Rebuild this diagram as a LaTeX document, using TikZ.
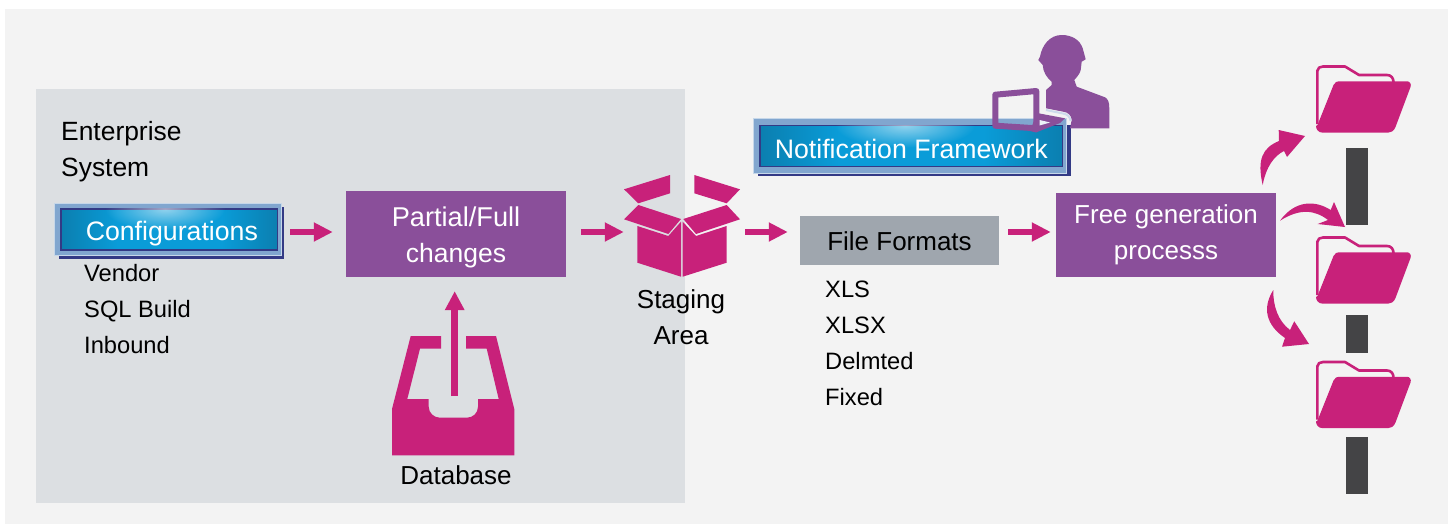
\documentclass[tikz,border=0pt]{standalone}
\usepackage{fontspec}
\setmainfont{Liberation Sans}
\usetikzlibrary{arrows.meta,fadings}
\definecolor{pagebg}{HTML}{F3F3F3}
\definecolor{entbg}{HTML}{DCDFE2}
\definecolor{magentaink}{HTML}{C8217A}
\definecolor{purpleink}{HTML}{8A4F9A}
\definecolor{greybox}{HTML}{9FA6AE}
\definecolor{darkbar}{HTML}{444446}
\definecolor{navy}{HTML}{333A85}
\definecolor{paleblue}{HTML}{81A6CF}
\definecolor{btnA}{HTML}{2A4C7E}
\definecolor{btnB}{HTML}{0B6F9A}
\definecolor{btnC}{HTML}{0A9CD8}
\pgfdeclarehorizontalshading{btnshade}{100bp}{
  color(0bp)=(btnB!70!btnA); color(12bp)=(btnB); color(18bp)=(btnB); color(38bp)=(btnC); color(62bp)=(btnC);
  color(82bp)=(btnB); color(100bp)=(btnA)}
\tikzfading[name=glow, inner color=transparent!45, outer color=transparent!100]
\newcommand\tworows[4]{\rule{0pt}{#3pt}#1\\#2\rule[-#4pt]{0pt}{#4pt}}
\tikzset{
  big/.style={font=\fontsize{26}{36}\selectfont},
  bigger/.style={font=\fontsize{26.7}{36}\selectfont},
  small/.style={font=\fontsize{23.7}{36}\selectfont, anchor=base west, inner sep=0pt, text=black},
  procbox/.style={fill=purpleink, text=white, big, align=center, inner sep=0pt, minimum width=220pt},
  formatbox/.style={fill=greybox, text=black, big, inner sep=0pt, minimum width=199pt, minimum height=49pt, text height=19pt, text depth=0pt},
  btnouter/.style={fill=paleblue, draw=paleblue!45!white, line width=0.8pt, inner sep=0pt},
  btn/.style={shading=btnshade, draw=navy, line width=1.4pt, text=white, bigger, inner sep=0pt, minimum height=41pt},
  iconarea/.style={inner sep=0pt},
  flow/.style={draw=magentaink, line width=6.5pt, -{Triangle[length=19pt,width=18pt]}},
  ink/.style={fill=magentaink, draw=none},
  bar/.style={fill=darkbar, draw=none},
  labelc/.style={big, align=center, inner sep=0pt, text=black},
  folderico/.pic={
    \draw[magentaink, line width=2.6pt, line join=round]
      (1317.3,124) -- (1317.3,71) .. controls (1317.3,68) and (1320,66.5) .. (1323,66.5) -- (1345,66.5) -- (1359,75) -- (1387,75) .. controls (1391,75) and (1393.5,78) .. (1393.5,82);
    \fill[magentaink] (1339,81.3) -- (1407,81.3) .. controls (1410,81.3) and (1411.5,84) .. (1410.5,87) -- (1395.5,127)
      .. controls (1394,131) and (1391,132.7) .. (1388,132.7) -- (1323,132.7) .. controls (1318,132.7) and (1316,129) .. (1316,126) -- (1317.5,125) -- (1333.5,85) .. controls (1335,82) and (1337,81.3) .. (1339,81.3) -- cycle;
  }
}
\begin{document}
\begin{tikzpicture}[x=1pt,y=-1pt]
\useasboundingbox (0,0) rectangle (1452,525);
\fill[white] (0,0) rectangle (1452,525);
\fill[pagebg] (5,9) rectangle (1448,524);
\fill[entbg] (36,89) rectangle (685,503);

\coordinate (rowy) at (0,232);

% left column
\node[font=\fontsize{26.4}{36}\selectfont, anchor=base west, inner sep=0pt] (ent1) at (61,140) {Enterprise};
\node[font=\fontsize{26.4}{36}\selectfont, anchor=base west, inner sep=0pt] (ent2) at (61,176) {System};
\fill[navy] (59,207) rectangle (284.3,258.7);
\node[btnouter, minimum width=226.6pt, minimum height=52.5pt] (cfgouter) at (168,229.35) {};
\node[btn, minimum width=216.7pt, text height=26pt, text depth=5pt] (cfg) at (169.35,229.5) {\hspace{5pt}Configurations};
\begin{scope}
  \clip (cfg.south west) rectangle (cfg.north east);
  \fill[white, path fading=glow] (165,209) ellipse (60pt and 22pt);
\end{scope}
\node[small] (vendor) at (84,281) {Vendor};
\node[small] (sql) at (84,317) {SQL Build};
\node[small] (inb) at (84,353) {Inbound};

\node[procbox, minimum height=86pt] (part) at (456,234)
  {\tworows{\fontsize{27.2}{36}\selectfont Partial/Full}{\fontsize{26.5}{36}\selectfont changes}{26}{6}};

% tray
\node[iconarea, minimum width=122.3pt, minimum height=119.3pt] (tray) at (453.15,395.65) {};
\fill[magentaink] (410.7,336) -- (441,336) -- (441,348.7) -- (420,348.7) -- (407.3,399) -- (428.7,399) -- (428.7,406.7)
  .. controls (428.7,413) and (434,417.7) .. (440,417.7) -- (466.7,417.7) .. controls (473,417.7) and (478,413) .. (478,406.7) -- (478,399)
  -- (498.7,399) -- (486.7,348.7) -- (466,348.7) -- (466,336) -- (496,336) -- (514.3,409) -- (514.3,455.3) -- (392,455.3) -- (392,409) -- cycle;
\coordinate (trayout) at (454.7,396);
\draw[magentaink, line width=6.7pt, -{Triangle[length=19pt,width=18.5pt]}, shorten >=14pt] (trayout) -- (trayout |- part.south);
\node[labelc] (dbl) at (456,475) {Database};

% staging box
\node[iconarea, minimum width=116pt, minimum height=102pt] (staging) at (682,226) {};
\fill[magentaink] (624,189.3) -- (670,175) -- (670,193.3) -- (638.3,203.3) -- cycle;
\fill[magentaink] (694.3,175) -- (740,189.3) -- (726.7,203.3) -- (694.3,193.3) -- cycle;
\fill[magentaink] (638.3,205) -- (681,219) -- (668.3,234) -- (624,219.3) -- cycle;
\fill[magentaink] (726.7,205) -- (740,219.3) -- (696,234) -- (683.3,219) -- cycle;
\fill[magentaink] (637.3,226) -- (668.3,236) -- (681,221.7) -- (681,276.7) -- (637.3,262.7) -- cycle;
\fill[magentaink] (682.7,221.7) -- (696,236) -- (726.7,226) -- (726.7,262.7) -- (682.7,276.7) -- cycle;
\node[labelc] (stl) at (681,317) {\tworows{Staging}{Area}{24}{6}};

% file formats
\node[formatbox] (ff) at (899.5,240.5) {File Formats};
\node[small] (xls) at (825,297) {XLS};
\node[small] (xlsx) at (825,333) {XLSX};
\node[small] (del) at (825,369) {Delmted};
\node[small] (fix) at (825,405) {Fixed};

% free generation
\node[procbox, minimum height=84pt] (free) at (1166,235) {\tworows{Free generation}{processs}{20}{8}};

% notification
\fill[navy] (758,125) rectangle (1070.7,175.7);
\node[btnouter, minimum width=312.6pt, minimum height=54.9pt] (notifouter) at (910,146.15) {};
\node[btn, minimum width=302.7pt, text height=30pt, text depth=5pt] (notif) at (911.35,146.2) {Notification Framework};
\begin{scope}
  \clip (notif.south west) rectangle (notif.north east);
  \fill[white, path fading=glow] (905,125.7) ellipse (70pt and 22pt);
\end{scope}

% person + laptop
\fill[purpleink] (1061.7,35) .. controls (1050,35) and (1042,45) .. (1040,56.7) -- (1038.3,60) -- (1042.7,65)
  .. controls (1043,72) and (1047,78) .. (1051.7,81.7) -- (1051.7,85) -- (1046,90) -- (1046,108.3) -- (1063.3,111.7)
  .. controls (1068,112) and (1071.7,116) .. (1071.7,120) -- (1070,128.3) -- (1109.3,128.3) -- (1109.3,108.3)
  .. controls (1109.3,102) and (1108,99) .. (1105,97.3) -- (1076.7,86.7) -- (1074.3,80)
  .. controls (1078,76) and (1080,73) .. (1080.7,70) -- (1081.7,61.7) -- (1085.7,59.3) -- (1082.7,48.3)
  .. controls (1080,40) and (1072,35) .. (1061.7,35) -- cycle;
\draw[white!60!paleblue, line width=2pt] (1046,110) -- (1063,113.5) .. controls (1067,114) and (1070.5,117) .. (1070.5,121);
\draw[purpleink, line width=6pt, line join=round] (995.3,94.7) -- (1036.3,91) -- (1036.3,128.3) -- (995.3,125.7) -- cycle;
\fill[purpleink] (1037,113) -- (1065,118.3) -- (1060,123) -- (1036,132.5) -- (1030,131) -- cycle;
\fill[white!85!paleblue] (1039.5,120) -- (1050,122.5) -- (1039.5,125.5) -- cycle;

% row of connectors
\draw[flow, shorten <=8.3pt, shorten >=13pt] (cfgouter.east |- rowy) -- (part.west |- rowy);
\draw[flow, shorten <=15pt] (part.east |- rowy) -- (staging.west |- rowy);
\draw[flow, shorten <=5pt, shorten >=12pt] (staging.east |- rowy) -- (ff.west |- rowy);
\draw[flow, shorten <=9pt, shorten >=5pt] (ff.east |- rowy) -- (free.west |- rowy);

% folders and bars
\path (0,0) pic {folderico};
\path (0,171) pic {folderico};
\path (0,295.5) pic {folderico};
\fill[bar] (1346,148) rectangle (1368,225);
\fill[bar] (1346,315) rectangle (1368,352.7);
\fill[bar] (1346,437) rectangle (1368,493.7);

% curved arrows
\fill[ink] (1262.7,185) .. controls (1257,160) and (1262,148) .. (1279,141) -- (1278.7,130) -- (1305,136) -- (1287,157) -- (1284,151)
  .. controls (1274,156) and (1266,167) .. cycle;
\fill[ink] (1280,220.7) .. controls (1295,200) and (1315,200) .. (1330.7,210) -- (1334,202) -- (1345,227) -- (1317.7,224) -- (1328,220)
  .. controls (1315,210) and (1300,208) .. cycle;
\fill[ink] (1273.3,290) .. controls (1262,308) and (1266,325) .. (1285,338) -- (1282,346.7) -- (1309,344) -- (1294.3,321.3) -- (1290,330)
  .. controls (1278,321) and (1273,306) .. cycle;
\end{tikzpicture}
\end{document}
